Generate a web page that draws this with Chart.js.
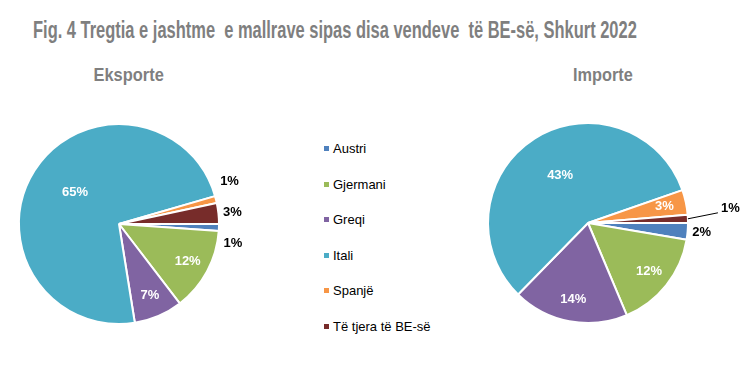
<!DOCTYPE html>
<html lang="sq">
<head>
<meta charset="utf-8">
<title>Tregtia e jashtme e mallrave sipas disa vendeve të BE-së</title>
<script src="https://cdn.jsdelivr.net/npm/chart.js@4/dist/chart.umd.min.js"></script>
<style>
  html, body { margin: 0; padding: 0; background: #fff; }
  #wrap { position: relative; width: 755px; height: 368px; overflow: hidden;
          font-family: "Liberation Sans", Arial, sans-serif; }
  .fit { position: absolute; white-space: pre; font-weight: bold; color: #7f7f7f; }
  #title { left: 33px; top: 19px; font-size: 23px; line-height: 23px; transform-origin: 0 0; }
  .sub { top: 65px; font-size: 19px; line-height: 19px; transform-origin: 50% 0; }
  canvas { position: absolute; }
  .lg-item { position: absolute; left: 324px; font-size: 13px; line-height: 14px;
             color: #000; white-space: nowrap; }
  .lg-item i { display: inline-block; width: 5px; height: 5px; margin-right: 4px;
               vertical-align: middle; position: relative; top: -1px; }
</style>
</head>
<body>
<div id="wrap">
  <div id="title" class="fit">Fig. 4 Tregtia e jashtme  e mallrave sipas disa vendeve  të BE-së, Shkurt 2022</div>
  <div id="subExp" class="fit sub">Eksporte</div>
  <div id="subImp" class="fit sub">Importe</div>
  <canvas id="expChart" width="280" height="250" style="left:0;top:100px"></canvas>
  <canvas id="impChart" width="285" height="250" style="left:470px;top:100px"></canvas>
  <div id="legend"></div>
</div>
<script>
'use strict';

// ── Data ──────────────────────────────────────────────────────────────────────

const categories   = ['Austri', 'Gjermani', 'Greqi', 'Itali', 'Spanjë', 'Të tjera të BE-së'];
const exportShares = [1, 12, 7, 65, 1, 3];   // % e eksporteve
const importShares = [2, 12, 14, 43, 3, 1];  // % e importeve

const sliceColors = ['#4f81bd', '#9bbb59', '#8064a2', '#4bacc6', '#f79646', '#772c2a'];

// ── Titles ────────────────────────────────────────────────────────────────────

function fitWidth(el, target, center) {
  const w = el.offsetWidth;
  if (center != null) el.style.left = (center - w / 2) + 'px';
  el.style.transform = `scaleX(${target / w})`;
}

fitWidth(document.getElementById('title'), 604);
fitWidth(document.getElementById('subExp'), 70, 128);
fitWidth(document.getElementById('subImp'), 60, 603);

// ── Legend ────────────────────────────────────────────────────────────────────

const legendEl = document.getElementById('legend');
categories.forEach((name, i) => {
  const item = document.createElement('div');
  item.className = 'lg-item';
  item.style.top = (142 + i * 35.6) + 'px';
  item.innerHTML = `<i style="background:${sliceColors[i]}"></i>${name}`;
  legendEl.appendChild(item);
});

// ── Slice labels ──────────────────────────────────────────────────────────────

const pieLabels = {
  id: 'pieLabels',
  afterDatasetsDraw(chart, args, opts) {
    const { ctx } = chart;
    const values = chart.data.datasets[0].data;
    const total = values.reduce((a, b) => a + b, 0);
    const maxVal = Math.max(...values);
    const outside = [];

    ctx.save();
    ctx.font = 'bold 13px "Liberation Sans", Arial, sans-serif';
    ctx.textBaseline = 'middle';
    ctx.textAlign = 'center';

    chart.getDatasetMeta(0).data.forEach((arc, i) => {
      const { x, y, startAngle, endAngle, outerRadius: r } = arc;
      const mid = (startAngle + endAngle) / 2;
      const text = values[i] + '%';
      if (values[i] / total < 0.037) {
        outside.push({ x, y, r, mid, text,
          lx: x + Math.cos(mid) * (r + 14), ly: y + Math.sin(mid) * (r + 14) });
        return;
      }
      const k = values[i] === maxVal ? 0.52 : 0.78;
      ctx.fillStyle = '#fff';
      ctx.fillText(text, x + Math.cos(mid) * r * k, y + Math.sin(mid) * r * k - (values[i] === maxVal ? 4 : 0));
    });

    ctx.fillStyle = '#000';
    if (opts.mode === 'spread') {
      // push the small labels apart vertically
      const list = outside.slice().sort((a, b) => a.ly - b.ly);
      const gap = 31;
      for (let n = 0; n < 40; n++) {
        for (let j = 1; j < list.length; j++) {
          const d = list[j].ly - list[j - 1].ly;
          if (d < gap) { const s = (gap - d) / 2; list[j].ly += s; list[j - 1].ly -= s; }
        }
      }
      list.forEach(o => ctx.fillText(o.text, o.lx, o.ly));
    } else {
      // leader line for a label that would overlap an earlier one
      const placed = [];
      outside.forEach(o => {
        const hit = placed.some(p => Math.abs(p.ly - o.ly) < 16);
        if (!hit) {
          ctx.fillText(o.text, o.lx, o.ly);
          placed.push(o);
          return;
        }
        const ex = o.x + Math.cos(o.mid) * o.r, ey = o.y + Math.sin(o.mid) * o.r;
        ctx.strokeStyle = '#000';
        ctx.lineWidth = 1;
        ctx.beginPath();
        ctx.moveTo(ex, ey);
        ctx.lineTo(ex + 30, ey - 6);
        ctx.stroke();
        ctx.textAlign = 'left';
        ctx.fillText(o.text, ex + 33, ey - 10);
        ctx.textAlign = 'center';
      });
    }
    ctx.restore();
  }
};

// ── Charts ────────────────────────────────────────────────────────────────────

function makePie(id, values, padding, mode) {
  return new Chart(document.getElementById(id), {
    type: 'pie',
    data: {
      labels: categories,
      datasets: [{
        data: values,
        backgroundColor: sliceColors,
        borderColor: '#fff',
        borderWidth: 2,
      }],
    },
    options: {
      responsive: false,
      animation: false,
      events: [],
      rotation: 90,
      radius: 100,
      layout: { padding },
      plugins: {
        legend: { display: false },
        tooltip: { enabled: false },
        pieLabels: { mode },
      },
    },
    plugins: [pieLabels],
  });
}

makePie('expChart', exportShares, { left: 19, right: 61, top: 24, bottom: 26 }, 'spread');
makePie('impChart', importShares, { left: 18, right: 67, top: 23, bottom: 27 }, 'leader');
</script>
</body>
</html>
